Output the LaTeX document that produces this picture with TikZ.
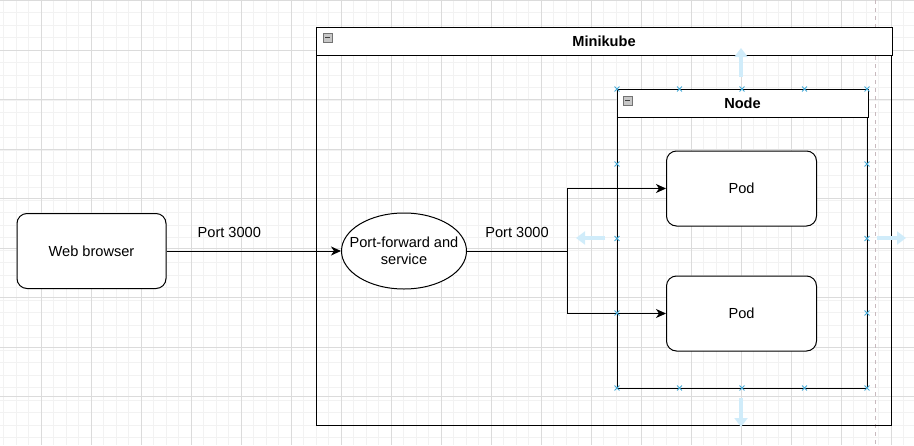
\documentclass[tikz,border=0pt]{standalone}
\usepackage{fontspec}
\setmainfont{Liberation Sans}
\usetikzlibrary{positioning}
\usetikzlibrary{calc}
\usetikzlibrary{arrows.meta}
\usetikzlibrary{shapes.geometric}
\usetikzlibrary{shapes.misc}

\begin{document}
\begin{tikzpicture}[x=1pt, y=-1pt]
    \colorlet{border}{black}
    \colorlet{minorgrid}{black!5}
    \colorlet{majorgrid}{black!14}
    \definecolor{grip}{RGB}{70,170,215}
    \definecolor{hint}{RGB}{208,236,250}
    \definecolor{pageline}{RGB}{200,185,190}

\newcommand\header{28}

\useasboundingbox (0, 0) rectangle (914, 445);

% background grid
\foreach \gx in {3.5, 16, ..., 914} \draw[minorgrid, line width=.6] (\gx, 0) -- (\gx, 445);
\foreach \gy in {12.5, 25, ..., 445} \draw[minorgrid, line width=.6] (0, \gy) -- (914, \gy);
\foreach \gx in {41, 91, ..., 891} \draw[majorgrid, line width=.7] (\gx, 0) -- (\gx, 445);
\foreach \gy in {0.5, 50, ..., 445} \draw[majorgrid, line width=.7] (0, \gy) -- (914, \gy);
\draw[pageline, line width=.8, dash pattern=on 4 off 4] (875, 0) -- (875, 445);

\begin{scope}
    \tikzset{
        every node/.style={font=\fontsize{14.6}{17.5}\selectfont},
        box/.style={
            draw=border, fill=white, line width=1,
            rounded corners=10,
            minimum width=150, minimum height=75,
            inner sep=0pt,
        },
        container/.style={
            draw=border, line width=1, anchor=north west,
            inner sep=0pt,
        },
        title/.style={font=\bfseries\fontsize{14.6}{17.5}\selectfont},
        fold/.style={
            draw=black!55, fill=black!22, line width=.6,
            minimum size=9, inner sep=0pt,
            path picture={\draw[black!75, line width=1]
                ([xshift=2]path picture bounding box.west) --
                ([xshift=-2]path picture bounding box.east);},
        },
        link/.style={
            draw=border, line width=1,
            -{Stealth[length=10, width=9, inset=3]},
        },
        port label/.style={anchor=south, yshift=9.5pt},
        grip/.style={
            cross out, draw=grip, line width=.9,
            minimum size=4, inner sep=0pt,
        },
        hint arrow/.style={
            hint, line width=4.5,
            -{Triangle[length=9, width=13]},
        },
    }

    \node[container, minimum width=575, minimum height=398] at (316, 27) (minikube) {};
    \fill[white] (minikube.north west) rectangle ($(minikube.north east)+(0, \header)$);
    \draw[border, line width=1] (minikube.north west) rectangle ($(minikube.north east)+(0, \header)$);
    \node[title] at ($(minikube.north)+(0, .5 * \header)$) (minikube-t) {Minikube};
    \node[fold] at (327.5, 37.5) (minikube-f) {};

    \node[container, minimum width=250, minimum height=299] at (617, 89) (node) {};
    \fill[white] (node.north west) rectangle ($(node.north east)+(0, \header)$);
    \draw[border, line width=1] (node.north west) rectangle ($(node.north east)+(0, \header)$);
    \node[title] at ($(node.north)+(0, .5 * \header)$) (node-t) {Node};
    \node[fold] at (627.5, 100.5) (node-f) {};

    \node[box, minimum width=149] at (91.5, 251) (browser) {Web browser};
    \node[draw=border, fill=white, line width=1, ellipse,
        minimum width=125, minimum height=76,
        inner xsep=-12pt, inner ysep=0pt, align=center]
        at (404, 251) (forward) {Port-forward and\\service};
    \node[box] at (741.5, 188.5) (pod-t) {Pod};
    \node[box] at (741.5, 313.5) (pod-b) {Pod};

    \coordinate (split) at (567, 251);

    \draw[link] (browser) -- node[pos=.36, port label] (port-in) {Port 3000} (forward);
    \draw[border, line width=1] (forward) -- node[port label] (port-out) {Port 3000} (split);
    \draw[link] (split) |- (pod-t);
    \draw[link] (split) |- (pod-b);

    % selection handles
    \foreach \hx in {617, 679.5, 742, 804.5, 867} {
        \node[grip] at (\hx, 89) {};
        \node[grip] at (\hx, 388) {};
    }
    \foreach \hy in {164, 238.5, 313} {
        \node[grip] at (617, \hy) {};
        \node[grip] at (867, \hy) {};
    }
    \draw[hint arrow] (741, 77) -- (741, 48);
    \draw[hint arrow] (741, 398) -- (741, 427);
    \draw[hint arrow] (605, 238) -- (576, 238);
    \draw[hint arrow] (877, 238) -- (906, 238);
\end{scope}
\end{tikzpicture}
\end{document}
